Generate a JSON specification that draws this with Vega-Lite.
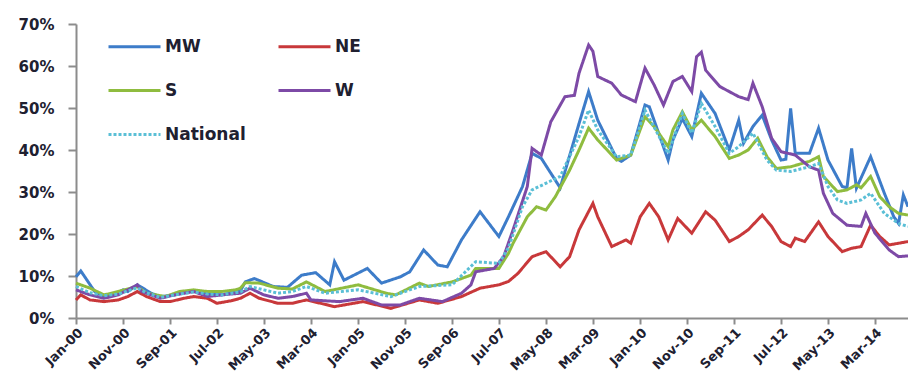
{
  "$schema": "https://vega.github.io/schema/vega-lite/v6.json",
  "width": 832,
  "height": 294,
  "autosize": {"type": "none"},
  "padding": {"left": 76, "top": 24, "right": 0, "bottom": 58},
  "background": "white",
  "config": {
    "view": {"stroke": null},
    "font": "DejaVu Sans",
    "legend": {
      "orient": "none",
      "legendX": 31,
      "legendY": -5,
      "direction": "horizontal",
      "columns": 2,
      "symbolType": "stroke",
      "symbolSize": 2704,
      "symbolStrokeWidth": 3,
      "labelFont": "DejaVu Sans",
      "labelFontSize": 17,
      "labelFontWeight": "bold",
      "labelColor": "#202030",
      "labelOffset": 3,
      "columnPadding": 26,
      "rowPadding": 8,
      "gridAlign": "all",
      "padding": 0
    }
  },
  "data": {
    "format": {"parse": {"d": "date:'%Y-%m'"}},
    "values": [
      {"d":"2000-01","s":"MW","v":9.8},{"d":"2000-02","s":"MW","v":11.2},{"d":"2000-05","s":"MW","v":6.3},{"d":"2000-07","s":"MW","v":5.1},{"d":"2000-09","s":"MW","v":5.5},{"d":"2000-11","s":"MW","v":6.7},{"d":"2000-12","s":"MW","v":6.3},{"d":"2001-02","s":"MW","v":7.9},{"d":"2001-03","s":"MW","v":7.3},{"d":"2001-05","s":"MW","v":5.9},{"d":"2001-07","s":"MW","v":5.1},{"d":"2001-10","s":"MW","v":5.5},{"d":"2002-02","s":"MW","v":6.5},{"d":"2002-05","s":"MW","v":5.9},{"d":"2002-08","s":"MW","v":5.5},{"d":"2002-12","s":"MW","v":6.5},{"d":"2003-01","s":"MW","v":8.6},{"d":"2003-03","s":"MW","v":9.4},{"d":"2003-07","s":"MW","v":7.5},{"d":"2003-10","s":"MW","v":7.3},{"d":"2004-01","s":"MW","v":10.2},{"d":"2004-04","s":"MW","v":10.8},{"d":"2004-07","s":"MW","v":7.9},{"d":"2004-08","s":"MW","v":13.4},{"d":"2004-10","s":"MW","v":9.0},{"d":"2005-03","s":"MW","v":11.8},{"d":"2005-06","s":"MW","v":8.3},{"d":"2005-10","s":"MW","v":9.8},{"d":"2005-12","s":"MW","v":11.0},{"d":"2006-03","s":"MW","v":16.2},{"d":"2006-06","s":"MW","v":12.6},{"d":"2006-08","s":"MW","v":12.2},{"d":"2006-11","s":"MW","v":18.6},{"d":"2007-03","s":"MW","v":25.3},{"d":"2007-07","s":"MW","v":19.4},{"d":"2007-09","s":"MW","v":24.1},{"d":"2007-12","s":"MW","v":31.3},{"d":"2008-02","s":"MW","v":39.2},{"d":"2008-04","s":"MW","v":38.0},{"d":"2008-08","s":"MW","v":31.0},{"d":"2008-12","s":"MW","v":46.3},{"d":"2009-02","s":"MW","v":53.9},{"d":"2009-04","s":"MW","v":47.1},{"d":"2009-08","s":"MW","v":38.0},{"d":"2009-09","s":"MW","v":37.3},{"d":"2009-11","s":"MW","v":38.8},{"d":"2010-02","s":"MW","v":50.7},{"d":"2010-03","s":"MW","v":50.3},{"d":"2010-07","s":"MW","v":37.6},{"d":"2010-08","s":"MW","v":42.4},{"d":"2010-10","s":"MW","v":47.5},{"d":"2010-12","s":"MW","v":43.2},{"d":"2011-02","s":"MW","v":53.5},{"d":"2011-05","s":"MW","v":48.7},{"d":"2011-08","s":"MW","v":40.0},{"d":"2011-10","s":"MW","v":47.1},{"d":"2011-11","s":"MW","v":41.6},{"d":"2012-01","s":"MW","v":45.6},{"d":"2012-03","s":"MW","v":48.3},{"d":"2012-05","s":"MW","v":42.4},{"d":"2012-07","s":"MW","v":37.6},{"d":"2012-08","s":"MW","v":37.8},{"d":"2012-09","s":"MW","v":49.9},{"d":"2012-10","s":"MW","v":39.2},{"d":"2013-01","s":"MW","v":39.2},{"d":"2013-03","s":"MW","v":45.2},{"d":"2013-05","s":"MW","v":37.6},{"d":"2013-08","s":"MW","v":31.3},{"d":"2013-09","s":"MW","v":31.0},{"d":"2013-10","s":"MW","v":40.4},{"d":"2013-11","s":"MW","v":30.9},{"d":"2014-02","s":"MW","v":38.4},{"d":"2014-05","s":"MW","v":29.7},{"d":"2014-07","s":"MW","v":24.1},{"d":"2014-08","s":"MW","v":22.5},{"d":"2014-09","s":"MW","v":29.3},{"d":"2014-10","s":"MW","v":26.5},

      {"d":"2000-01","s":"NE","v":4.3},{"d":"2000-02","s":"NE","v":5.5},{"d":"2000-04","s":"NE","v":4.3},{"d":"2000-07","s":"NE","v":3.9},{"d":"2000-10","s":"NE","v":4.3},{"d":"2000-12","s":"NE","v":5.1},{"d":"2001-02","s":"NE","v":6.3},{"d":"2001-04","s":"NE","v":5.1},{"d":"2001-07","s":"NE","v":3.9},{"d":"2001-09","s":"NE","v":3.9},{"d":"2001-12","s":"NE","v":4.7},{"d":"2002-02","s":"NE","v":5.1},{"d":"2002-05","s":"NE","v":4.7},{"d":"2002-07","s":"NE","v":3.5},{"d":"2002-10","s":"NE","v":4.1},{"d":"2002-12","s":"NE","v":4.7},{"d":"2003-02","s":"NE","v":5.9},{"d":"2003-04","s":"NE","v":4.7},{"d":"2003-08","s":"NE","v":3.5},{"d":"2003-11","s":"NE","v":3.5},{"d":"2004-02","s":"NE","v":4.3},{"d":"2004-08","s":"NE","v":2.7},{"d":"2005-02","s":"NE","v":3.9},{"d":"2005-08","s":"NE","v":2.3},{"d":"2006-02","s":"NE","v":4.3},{"d":"2006-06","s":"NE","v":3.5},{"d":"2006-11","s":"NE","v":5.1},{"d":"2007-03","s":"NE","v":7.1},{"d":"2007-07","s":"NE","v":7.9},{"d":"2007-09","s":"NE","v":8.7},{"d":"2007-11","s":"NE","v":10.6},{"d":"2008-02","s":"NE","v":14.6},{"d":"2008-05","s":"NE","v":15.8},{"d":"2008-08","s":"NE","v":12.2},{"d":"2008-10","s":"NE","v":14.6},{"d":"2008-12","s":"NE","v":21.0},{"d":"2009-03","s":"NE","v":27.3},{"d":"2009-04","s":"NE","v":24.1},{"d":"2009-07","s":"NE","v":17.0},{"d":"2009-10","s":"NE","v":18.6},{"d":"2009-11","s":"NE","v":17.8},{"d":"2010-01","s":"NE","v":24.1},{"d":"2010-03","s":"NE","v":27.3},{"d":"2010-05","s":"NE","v":24.1},{"d":"2010-07","s":"NE","v":18.6},{"d":"2010-09","s":"NE","v":23.7},{"d":"2010-12","s":"NE","v":20.2},{"d":"2011-03","s":"NE","v":25.3},{"d":"2011-05","s":"NE","v":23.3},{"d":"2011-08","s":"NE","v":18.2},{"d":"2011-10","s":"NE","v":19.4},{"d":"2011-12","s":"NE","v":21.0},{"d":"2012-03","s":"NE","v":24.5},{"d":"2012-05","s":"NE","v":21.8},{"d":"2012-07","s":"NE","v":18.2},{"d":"2012-09","s":"NE","v":17.0},{"d":"2012-10","s":"NE","v":19.0},{"d":"2012-12","s":"NE","v":18.2},{"d":"2013-03","s":"NE","v":22.9},{"d":"2013-05","s":"NE","v":19.4},{"d":"2013-08","s":"NE","v":15.8},{"d":"2013-10","s":"NE","v":16.6},{"d":"2013-12","s":"NE","v":17.0},{"d":"2014-02","s":"NE","v":22.1},{"d":"2014-04","s":"NE","v":19.4},{"d":"2014-06","s":"NE","v":17.4},{"d":"2014-08","s":"NE","v":17.8},{"d":"2014-10","s":"NE","v":18.2},

      {"d":"2000-01","s":"S","v":8.3},{"d":"2000-04","s":"S","v":7.1},{"d":"2000-07","s":"S","v":5.5},{"d":"2000-10","s":"S","v":6.3},{"d":"2001-02","s":"S","v":7.5},{"d":"2001-04","s":"S","v":5.9},{"d":"2001-08","s":"S","v":5.1},{"d":"2001-11","s":"S","v":6.3},{"d":"2002-02","s":"S","v":6.7},{"d":"2002-05","s":"S","v":6.3},{"d":"2002-08","s":"S","v":6.3},{"d":"2002-11","s":"S","v":6.7},{"d":"2002-12","s":"S","v":7.1},{"d":"2003-01","s":"S","v":8.4},{"d":"2003-04","s":"S","v":8.3},{"d":"2003-08","s":"S","v":7.1},{"d":"2003-11","s":"S","v":6.9},{"d":"2004-02","s":"S","v":8.6},{"d":"2004-06","s":"S","v":6.3},{"d":"2005-01","s":"S","v":7.9},{"d":"2005-07","s":"S","v":5.9},{"d":"2005-09","s":"S","v":5.5},{"d":"2006-02","s":"S","v":8.3},{"d":"2006-04","s":"S","v":7.5},{"d":"2006-09","s":"S","v":8.6},{"d":"2007-01","s":"S","v":10.2},{"d":"2007-02","s":"S","v":11.8},{"d":"2007-07","s":"S","v":11.8},{"d":"2007-09","s":"S","v":15.4},{"d":"2007-10","s":"S","v":17.8},{"d":"2008-01","s":"S","v":24.1},{"d":"2008-03","s":"S","v":26.5},{"d":"2008-05","s":"S","v":25.7},{"d":"2008-07","s":"S","v":28.9},{"d":"2008-10","s":"S","v":35.2},{"d":"2008-12","s":"S","v":40.0},{"d":"2009-02","s":"S","v":45.2},{"d":"2009-04","s":"S","v":42.4},{"d":"2009-08","s":"S","v":37.6},{"d":"2009-11","s":"S","v":38.8},{"d":"2010-02","s":"S","v":47.9},{"d":"2010-04","s":"S","v":45.6},{"d":"2010-07","s":"S","v":40.8},{"d":"2010-08","s":"S","v":44.8},{"d":"2010-10","s":"S","v":49.1},{"d":"2010-12","s":"S","v":44.8},{"d":"2011-02","s":"S","v":47.1},{"d":"2011-05","s":"S","v":43.2},{"d":"2011-08","s":"S","v":38.0},{"d":"2011-10","s":"S","v":38.8},{"d":"2011-12","s":"S","v":40.0},{"d":"2012-02","s":"S","v":42.8},{"d":"2012-04","s":"S","v":38.4},{"d":"2012-06","s":"S","v":35.6},{"d":"2012-09","s":"S","v":36.0},{"d":"2013-01","s":"S","v":37.3},{"d":"2013-03","s":"S","v":38.4},{"d":"2013-04","s":"S","v":33.7},{"d":"2013-07","s":"S","v":30.1},{"d":"2013-09","s":"S","v":30.5},{"d":"2013-11","s":"S","v":31.7},{"d":"2013-12","s":"S","v":31.0},{"d":"2014-02","s":"S","v":33.7},{"d":"2014-04","s":"S","v":28.9},{"d":"2014-06","s":"S","v":26.5},{"d":"2014-08","s":"S","v":24.9},{"d":"2014-10","s":"S","v":24.5},

      {"d":"2000-01","s":"W","v":6.7},{"d":"2000-04","s":"W","v":5.5},{"d":"2000-07","s":"W","v":4.7},{"d":"2000-10","s":"W","v":5.5},{"d":"2001-02","s":"W","v":7.9},{"d":"2001-03","s":"W","v":6.3},{"d":"2001-07","s":"W","v":4.7},{"d":"2001-10","s":"W","v":5.5},{"d":"2002-02","s":"W","v":6.3},{"d":"2002-05","s":"W","v":5.1},{"d":"2002-08","s":"W","v":5.5},{"d":"2002-12","s":"W","v":5.9},{"d":"2003-02","s":"W","v":7.1},{"d":"2003-05","s":"W","v":5.5},{"d":"2003-08","s":"W","v":4.7},{"d":"2003-11","s":"W","v":5.1},{"d":"2004-02","s":"W","v":5.9},{"d":"2004-03","s":"W","v":4.3},{"d":"2004-09","s":"W","v":3.9},{"d":"2005-02","s":"W","v":4.7},{"d":"2005-06","s":"W","v":3.1},{"d":"2005-10","s":"W","v":3.1},{"d":"2006-02","s":"W","v":4.7},{"d":"2006-07","s":"W","v":3.9},{"d":"2006-11","s":"W","v":5.9},{"d":"2007-01","s":"W","v":7.9},{"d":"2007-02","s":"W","v":11.0},{"d":"2007-06","s":"W","v":11.8},{"d":"2007-08","s":"W","v":14.6},{"d":"2007-10","s":"W","v":21.0},{"d":"2008-01","s":"W","v":31.3},{"d":"2008-02","s":"W","v":40.4},{"d":"2008-04","s":"W","v":38.8},{"d":"2008-06","s":"W","v":46.7},{"d":"2008-09","s":"W","v":52.7},{"d":"2008-11","s":"W","v":53.0},{"d":"2008-12","s":"W","v":58.3},{"d":"2009-02","s":"W","v":65.0},{"d":"2009-03","s":"W","v":63.5},{"d":"2009-04","s":"W","v":57.5},{"d":"2009-07","s":"W","v":55.9},{"d":"2009-09","s":"W","v":53.1},{"d":"2009-12","s":"W","v":51.5},{"d":"2010-02","s":"W","v":59.5},{"d":"2010-04","s":"W","v":55.5},{"d":"2010-06","s":"W","v":50.7},{"d":"2010-08","s":"W","v":56.3},{"d":"2010-10","s":"W","v":57.5},{"d":"2010-12","s":"W","v":53.9},{"d":"2011-01","s":"W","v":62.2},{"d":"2011-02","s":"W","v":63.3},{"d":"2011-03","s":"W","v":59.0},{"d":"2011-06","s":"W","v":55.1},{"d":"2011-10","s":"W","v":52.7},{"d":"2011-12","s":"W","v":52.0},{"d":"2012-01","s":"W","v":55.9},{"d":"2012-03","s":"W","v":50.3},{"d":"2012-05","s":"W","v":42.8},{"d":"2012-07","s":"W","v":39.6},{"d":"2012-10","s":"W","v":38.8},{"d":"2013-01","s":"W","v":36.0},{"d":"2013-03","s":"W","v":35.2},{"d":"2013-04","s":"W","v":29.7},{"d":"2013-06","s":"W","v":24.9},{"d":"2013-09","s":"W","v":22.1},{"d":"2013-12","s":"W","v":21.8},{"d":"2014-01","s":"W","v":24.9},{"d":"2014-03","s":"W","v":20.2},{"d":"2014-06","s":"W","v":16.2},{"d":"2014-08","s":"W","v":14.6},{"d":"2014-10","s":"W","v":14.8},

      {"d":"2000-01","s":"National","v":7.5},{"d":"2000-04","s":"National","v":6.0},{"d":"2000-07","s":"National","v":5.3},{"d":"2000-10","s":"National","v":5.7},{"d":"2001-02","s":"National","v":7.2},{"d":"2001-04","s":"National","v":6.0},{"d":"2001-07","s":"National","v":4.9},{"d":"2001-11","s":"National","v":5.7},{"d":"2002-02","s":"National","v":6.2},{"d":"2002-05","s":"National","v":5.7},{"d":"2002-08","s":"National","v":5.5},{"d":"2002-12","s":"National","v":6.2},{"d":"2003-02","s":"National","v":7.5},{"d":"2003-05","s":"National","v":6.7},{"d":"2003-08","s":"National","v":5.9},{"d":"2003-11","s":"National","v":6.3},{"d":"2004-02","s":"National","v":7.5},{"d":"2004-06","s":"National","v":5.9},{"d":"2005-01","s":"National","v":6.7},{"d":"2005-08","s":"National","v":5.1},{"d":"2006-02","s":"National","v":7.5},{"d":"2006-09","s":"National","v":7.9},{"d":"2007-02","s":"National","v":13.4},{"d":"2007-07","s":"National","v":13.0},{"d":"2007-09","s":"National","v":16.7},{"d":"2007-12","s":"National","v":26.5},{"d":"2008-02","s":"National","v":30.5},{"d":"2008-08","s":"National","v":33.7},{"d":"2008-12","s":"National","v":43.2},{"d":"2009-02","s":"National","v":49.5},{"d":"2009-04","s":"National","v":44.8},{"d":"2009-08","s":"National","v":38.4},{"d":"2009-11","s":"National","v":38.8},{"d":"2010-02","s":"National","v":49.5},{"d":"2010-07","s":"National","v":39.2},{"d":"2010-10","s":"National","v":48.7},{"d":"2010-12","s":"National","v":44.0},{"d":"2011-02","s":"National","v":51.1},{"d":"2011-05","s":"National","v":45.6},{"d":"2011-08","s":"National","v":39.2},{"d":"2011-10","s":"National","v":40.8},{"d":"2012-01","s":"National","v":44.0},{"d":"2012-04","s":"National","v":37.6},{"d":"2012-06","s":"National","v":35.2},{"d":"2012-09","s":"National","v":34.9},{"d":"2013-01","s":"National","v":36.0},{"d":"2013-03","s":"National","v":36.8},{"d":"2013-05","s":"National","v":31.3},{"d":"2013-07","s":"National","v":28.1},{"d":"2013-09","s":"National","v":27.3},{"d":"2013-12","s":"National","v":28.1},{"d":"2014-02","s":"National","v":29.7},{"d":"2014-05","s":"National","v":24.9},{"d":"2014-08","s":"National","v":22.5},{"d":"2014-10","s":"National","v":21.8}
    ]
  },
  "mark": {"type": "line", "strokeWidth": 3},
  "encoding": {
    "x": {
      "field": "d",
      "type": "temporal",
      "scale": {"domain": [{"year": 2000, "month": 1, "date": 1}, {"year": 2014, "month": 10, "date": 1}], "nice": false},
      "axis": {
        "title": null,
        "grid": false,
        "format": "%b-%y",
        "values": [
          {"year": 2000, "month": 1, "date": 1}, {"year": 2000, "month": 11, "date": 1}, {"year": 2001, "month": 9, "date": 1},
          {"year": 2002, "month": 7, "date": 1}, {"year": 2003, "month": 5, "date": 1}, {"year": 2004, "month": 3, "date": 1},
          {"year": 2005, "month": 1, "date": 1}, {"year": 2005, "month": 11, "date": 1}, {"year": 2006, "month": 9, "date": 1},
          {"year": 2007, "month": 7, "date": 1}, {"year": 2008, "month": 5, "date": 1}, {"year": 2009, "month": 3, "date": 1},
          {"year": 2010, "month": 1, "date": 1}, {"year": 2010, "month": 11, "date": 1}, {"year": 2011, "month": 9, "date": 1},
          {"year": 2012, "month": 7, "date": 1}, {"year": 2013, "month": 5, "date": 1}, {"year": 2014, "month": 3, "date": 1}
        ],
        "labelAngle": -45,
        "labelFont": "DejaVu Sans",
        "labelFontSize": 13,
        "labelFontWeight": "bold",
        "labelColor": "#202030",
        "labelPadding": 2,
        "labelOverlap": false,
        "labelFlush": false,
        "domainColor": "#8c8c8c",
        "domainWidth": 2,
        "tickColor": "#8c8c8c",
        "tickWidth": 2,
        "tickSize": 6
      }
    },
    "y": {
      "field": "v",
      "type": "quantitative",
      "scale": {"domain": [0, 70], "nice": false},
      "axis": {
        "title": null,
        "grid": false,
        "values": [0, 10, 20, 30, 40, 50, 60, 70],
        "labelExpr": "datum.value + '%'",
        "labelFont": "DejaVu Sans",
        "labelFontSize": 15,
        "labelFontWeight": "bold",
        "labelColor": "#202030",
        "labelPadding": 14,
        "labelFlush": false,
        "domainColor": "#8c8c8c",
        "domainWidth": 2,
        "tickColor": "#8c8c8c",
        "tickWidth": 2,
        "tickSize": 8
      }
    },
    "color": {
      "field": "s",
      "type": "nominal",
      "scale": {"domain": ["MW", "NE", "S", "W", "National"], "range": ["#3d7cc9", "#c8383a", "#8fbc3f", "#7d4aa6", "#5bbfd6"]},
      "legend": {"title": null}
    },
    "strokeDash": {
      "field": "s",
      "type": "nominal",
      "scale": {"domain": ["MW", "NE", "S", "W", "National"], "range": [[1, 0], [1, 0], [1, 0], [1, 0], [3, 2]]},
      "legend": {"title": null}
    }
  }
}
